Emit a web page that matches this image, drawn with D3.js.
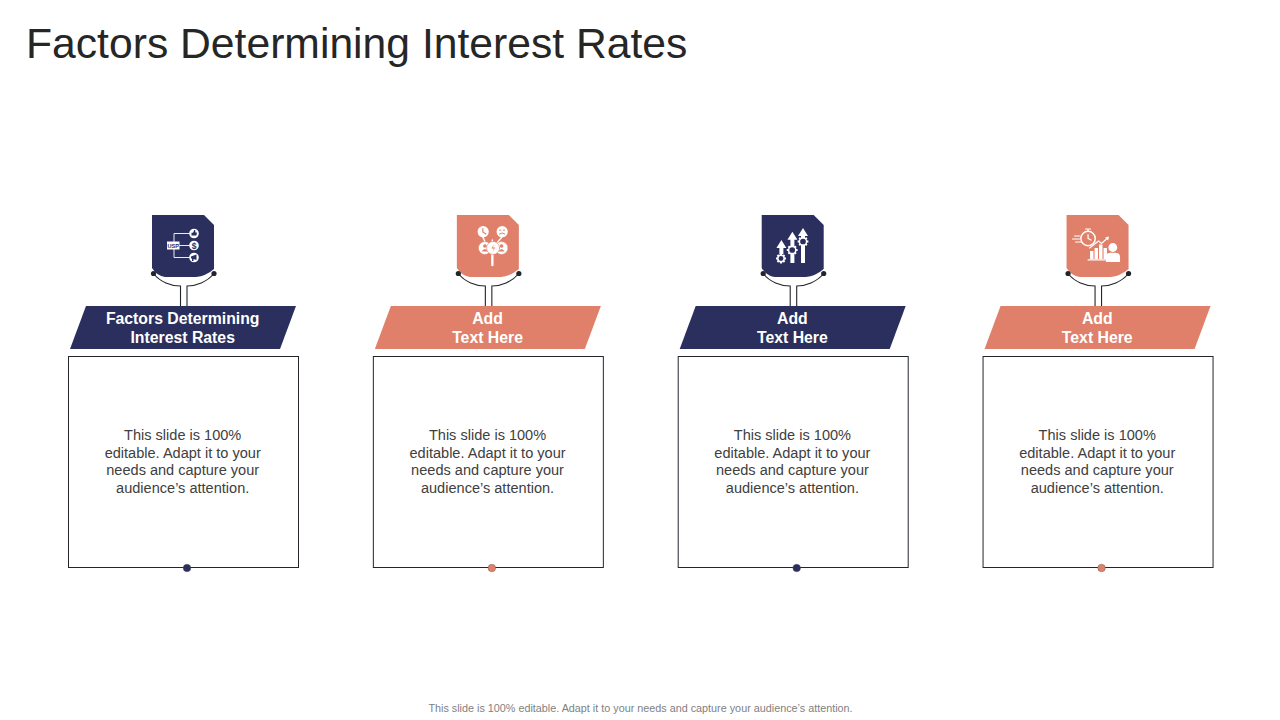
<!DOCTYPE html>
<html>
<head>
<meta charset="utf-8">
<title>Factors Determining Interest Rates</title>
<script src="https://cdn.jsdelivr.net/npm/d3@7"></script>
<style>
  html, body { margin: 0; padding: 0; background: #fff; }
  text { font-family: "Liberation Sans", Arial, sans-serif; }
</style>
</head>
<body>
<div id="wrapper"></div>
<script>
// 1. Data
const chartTitle = 'Factors Determining Interest Rates';
const footerText = 'This slide is 100% editable. Adapt it to your needs and capture your audience\u2019s attention.';
const columns = [0, 1, 2, 3];
const headings = [
  ['Factors Determining', 'Interest Rates'],
  ['Add', 'Text Here'],
  ['Add', 'Text Here'],
  ['Add', 'Text Here'],
];
const bodyLines = [
  'This slide is 100%',
  'editable. Adapt it to your',
  'needs and capture your',
  'audience\u2019s attention.',
];
const columnColors = ['navy', 'coral', 'navy', 'coral'];
const iconNames = ['usp', 'people', 'arrows', 'stopwatch'];

const palette = { navy: '#2a2f5d', coral: '#e0806a', ink: '#22252b' };

// 2. Dimensions
const dimensions = { width: 1280, height: 720, boxLeft: 68, boxStep: 304.85, boxWidth: 230, boxTop: 356.5, boxHeight: 211 };

const wrapper = d3.select('#wrapper')
  .append('svg')
  .attr('width', dimensions.width)
  .attr('height', dimensions.height)
  .style('display', 'block');

const xScale = d3.scaleLinear()
  .domain([0, 1])
  .range([dimensions.boxLeft, dimensions.boxLeft + dimensions.boxStep]);

wrapper.append('text')
  .attr('x', 26)
  .attr('y', 58)
  .attr('fill', '#262626')
  .style('font-size', '42.67px')
  .text(chartTitle);

wrapper.append('text')
  .attr('x', 640.5)
  .attr('y', 712)
  .attr('text-anchor', 'middle')
  .attr('fill', '#7f7f7f')
  .style('font-size', '10.8px')
  .text(footerText);

// 3. Columns
const cols = wrapper.selectAll('.col')
  .data(columns)
  .join('g')
  .attr('class', 'col')
  .attr('transform', d => `translate(${xScale(d)},0)`);

// outlined box
cols.append('rect')
  .attr('x', 0.5)
  .attr('y', dimensions.boxTop)
  .attr('width', dimensions.boxWidth)
  .attr('height', dimensions.boxHeight)
  .attr('fill', '#fff')
  .attr('stroke', palette.ink)
  .attr('stroke-width', 1);

cols.append('circle')
  .attr('cx', 119)
  .attr('cy', 568)
  .attr('r', 3.8)
  .attr('fill', d => palette[columnColors[d]])
  .attr('stroke', '#555')
  .attr('stroke-width', 0.4);

// banner
cols.append('path')
  .attr('d', 'M18,306 H228 L212,349 H2 Z')
  .attr('fill', d => palette[columnColors[d]]);

cols.each(function (d) {
  d3.select(this).selectAll('.head')
    .data(headings[d])
    .join('text')
    .attr('class', 'head')
    .attr('x', 114.7)
    .attr('y', (t, i) => 323.5 + i * 19)
    .attr('text-anchor', 'middle')
    .attr('fill', '#fff')
    .style('font-size', '15.8px')
    .style('font-weight', 'bold')
    .text(t => t);
});

// body copy
cols.selectAll('.body')
  .data(() => bodyLines)
  .join('text')
  .attr('class', 'body')
  .attr('x', 114.7)
  .attr('y', (t, i) => 440 + i * 17.7)
  .attr('text-anchor', 'middle')
  .attr('fill', '#404040')
  .style('font-size', '14.55px')
  .text(t => t);

// connector under the tile
cols.append('path')
  .attr('d', 'M85.5,273.5 C92,282 103,286 112.5,286 V306 M119,306 V286 C128,286 139,282 146,273.5')
  .attr('fill', 'none')
  .attr('stroke', palette.ink)
  .attr('stroke-width', 1.1);

// tile, with the white gap above the arc
cols.append('path')
  .attr('d', 'M84,215 H136 L146,225 V269 Q138,276 128,277 H97 Q89,276 84,268 Z')
  .attr('fill', d => palette[columnColors[d]]);

cols.append('circle').attr('cx', 85.5).attr('cy', 273.5).attr('r', 2.6).attr('fill', palette.ink);
cols.append('circle').attr('cx', 146).attr('cy', 273.5).attr('r', 2.6).attr('fill', palette.ink);

// 4. Icons, drawn in tile coordinates
const icons = cols.append('g')
  .attr('transform', 'translate(84,215)')
  .attr('stroke-linecap', 'round');

function gear(g, cx, cy, r, bg) {
  const teeth = d3.range(8).map(i => i * 45);
  g.selectAll(null)
    .data(teeth)
    .join('rect')
    .attr('x', cx - 1)
    .attr('y', cy - r - 1)
    .attr('width', 2)
    .attr('height', 2.4)
    .attr('fill', '#fff')
    .attr('transform', a => `rotate(${a},${cx},${cy})`);
  g.append('circle').attr('cx', cx).attr('cy', cy).attr('r', r - 0.8)
    .attr('fill', bg).attr('stroke', '#fff').attr('stroke-width', 1.5);
}

const iconDrawers = {
  usp(g, bg) {
    g.append('path')
      .attr('d', 'M42,18.5 H22 V42.5 H42 M27,30.5 H42')
      .attr('fill', 'none').attr('stroke', '#fff').attr('stroke-width', 0.9);
    g.append('rect').attr('x', 15).attr('y', 26.5).attr('width', 12.5).attr('height', 8).attr('fill', '#fff');
    g.append('text').attr('x', 21.2).attr('y', 32.8).attr('text-anchor', 'middle').attr('fill', bg)
      .style('font-size', '5.6px').style('font-weight', 'bold').text('USP');
    [18.5, 30.5, 42.5].forEach(cy => {
      g.append('circle').attr('cx', 42).attr('cy', cy).attr('r', 4.8).attr('fill', '#fff');
    });
    g.append('path').attr('d', 'M39.5,20.5 V17.8 H41 L42.3,15 H43.3 V17.5 H45 L44.4,20.5 Z').attr('fill', bg);
    g.append('text').attr('x', 42).attr('y', 33.5).attr('text-anchor', 'middle').attr('fill', bg)
      .style('font-size', '8.5px').style('font-weight', 'bold').text('$');
    g.append('path').attr('d', 'M39,41.5 L44.5,39.5 V45 L41.5,44 V46 H40 V43.6 L39,43.5 Z').attr('fill', bg);
  },
  people(g, bg) {
    g.append('path')
      .attr('d', 'M26,22 L31,33 M45,22 L36,33 M35.5,25 V33')
      .attr('fill', 'none').attr('stroke', '#fff').attr('stroke-width', 1.4);
    g.append('path').attr('d', 'M35.5,40 V50')
      .attr('fill', 'none').attr('stroke', '#fff').attr('stroke-width', 2.4);
    [[26.3, 16.7], [45.3, 16.7]].forEach(c => {
      g.append('circle').attr('cx', c[0]).attr('cy', c[1]).attr('r', 5.6).attr('fill', '#fff');
    });
    g.append('path').attr('d', 'M26,13.5 V17 L29,19').attr('fill', 'none').attr('stroke', bg).attr('stroke-width', 1.2);
    g.append('path').attr('d', 'M42.5,19 Q45.3,16.8 48,19 M42.8,15.2 H44 M46.6,15.2 H47.8')
      .attr('fill', 'none').attr('stroke', bg).attr('stroke-width', 1);
    [28, 44.7, 36.2].forEach(cx => {
      g.append('circle').attr('cx', cx).attr('cy', 33).attr('r', 6.5).attr('fill', '#fff')
        .attr('stroke', bg).attr('stroke-width', 0.6);
    });
    [28, 44.7].forEach(cx => {
      g.append('circle').attr('cx', cx).attr('cy', 31).attr('r', 1.8).attr('fill', bg);
      g.append('path').attr('d', `M${cx - 3.2},36.5 Q${cx},31.5 ${cx + 3.2},36.5 Z`).attr('fill', bg);
    });
    g.append('path').attr('d', 'M37.2,29 L34.6,33.4 H37 L35.4,37 L38.4,32.4 H36 Z').attr('fill', bg);
  },
  arrows(g, bg) {
    [[19.7, 25, 39], [30.7, 16.7, 48], [41.3, 13, 48]].forEach(a => {
      g.append('path')
        .attr('d', `M${a[0]},${a[1]} l5,8 h-3 V${a[2]} h-4 V${a[1] + 8} h-3 Z`)
        .attr('fill', '#fff');
    });
    gear(g, 19.3, 43.5, 4, bg);
    gear(g, 30.5, 35, 4.4, bg);
    gear(g, 41.3, 26.5, 4.4, bg);
  },
  stopwatch(g, bg) {
    g.append('circle').attr('cx', 21.5).attr('cy', 23.5).attr('r', 7.2)
      .attr('fill', 'none').attr('stroke', '#fff').attr('stroke-width', 1.5);
    g.append('path')
      .attr('d', 'M21.5,16 V14.5 M19,14 H24 M21.5,19.5 V23.5 L24.5,25 M8,21 H13 M6,24 H13 M9,27 H14')
      .attr('fill', 'none').attr('stroke', '#fff').attr('stroke-width', 1.2);
    [[23.5, 36, 8], [28, 33, 11], [32.5, 29.5, 14.5], [37, 33, 11]].forEach(b => {
      g.append('rect').attr('x', b[0]).attr('y', b[1]).attr('width', 3.4).attr('height', b[2])
        .attr('fill', '#fff');
    });
    g.append('path').attr('d', 'M23,33 L32,26 L35,28.5 L41,23').attr('fill', 'none').attr('stroke', '#fff').attr('stroke-width', 1.2);
    g.append('path').attr('d', 'M38.5,22.5 L42.5,21.5 L41.5,25.5 Z').attr('fill', '#fff');
    g.append('path').attr('d', 'M21.5,44.8 H40').attr('stroke', '#fff').attr('stroke-width', 1.2);
    g.append('circle').attr('cx', 46.3).attr('cy', 32.5).attr('r', 4.4).attr('fill', '#fff');
    g.append('path').attr('d', 'M39.5,47 V42 Q39.5,37.8 44,37.8 H48.5 Q53.5,37.8 53.5,42 V47 Z').attr('fill', '#fff');
  },
};

icons.each(function (d) {
  iconDrawers[iconNames[d]](d3.select(this), palette[columnColors[d]]);
});
</script>
</body>
</html>
